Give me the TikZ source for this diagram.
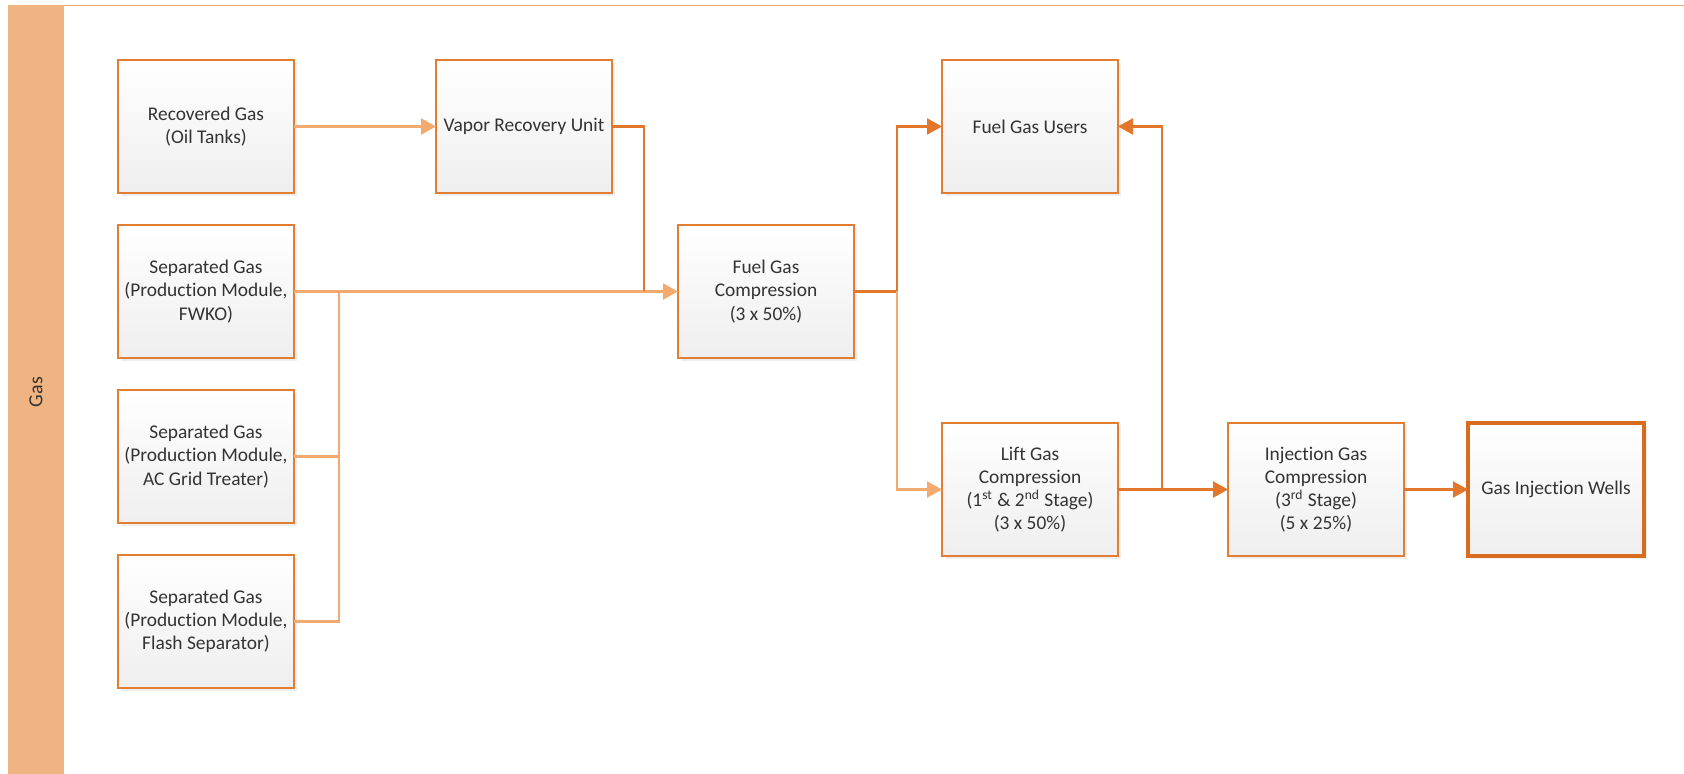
\documentclass[tikz,border=0pt]{standalone}
\usepackage{fontspec}
\setmainfont{Carlito}[Ligatures=NoCommon]
\usepackage{tikz}
\usetikzlibrary{positioning, arrows.meta, shadows, calc}
\usepackage{xcolor}
\definecolor{laneband}{RGB}{240,180,131}
\definecolor{unitline}{RGB}{226,125,52}
\definecolor{feedline}{RGB}{244,170,110}
\definecolor{mainline}{RGB}{226,118,42}
\definecolor{wellline}{RGB}{216,108,30}
\definecolor{labeltext}{RGB}{51,51,51}
\tikzset{
  unitbox/.style={rectangle, draw=unitline, line width=1.3pt,
                  top color=white, bottom color=gray!13,
                  drop shadow={shadow xshift=1.5pt, shadow yshift=-1.5pt,
                               fill=black!13},
                  minimum width=88pt, minimum height=66.5pt, outer sep=0pt,
                  inner sep=2pt, align=center,
                  text=labeltext, font=\fontsize{9.7}{11.6}\selectfont},
  wellbox/.style={unitbox, draw=wellline, line width=2.4pt},
  feed/.style={-{Triangle[length=7.5pt, width=8pt]}, line width=1.1pt,
               color=feedline},
  flow/.style={-{Triangle[length=7.5pt, width=8pt]}, line width=1.1pt,
               color=mainline},
  tie/.style={line width=1.1pt, color=feedline},
}

\begin{document}
\begin{tikzpicture}[node distance=16pt and 71pt]
    \useasboundingbox (0,0) rectangle (842pt,-387pt);
    % swimlane
    \fill[laneband] (4pt,-2.5pt) rectangle (32pt,-387pt);
    \draw[feedline, line width=0.5pt] (32pt,-2.75pt) -- (842pt,-2.75pt);
    \node[rotate=90, text=labeltext, font=\fontsize{10}{12}\selectfont]
          (lane) at (18pt,-196pt) {Gas};

    % sources
    \node[unitbox] (rec) at (103pt,-63.25pt) {Recovered Gas\\(Oil Tanks)};
    \node[unitbox, below=of rec] (sepA) {Separated Gas\\(Production Module,\\FWKO)};
    \node[unitbox, below=of sepA] (sepB) {Separated Gas\\(Production Module,\\AC Grid Treater)};
    \node[unitbox, below=of sepB] (sepC) {Separated Gas\\(Production Module,\\Flash Separator)};
    \node[unitbox, right=of rec] (vru) {Vapor Recovery Unit};

    % compression and users
    \node[unitbox, right=192pt of sepA] (fgc) {Fuel Gas\\Compression\\(3 x 50\%)};
    \node[unitbox, right=165pt of vru] (users) {Fuel Gas Users};
    \node[unitbox, below=115pt of users] (lift)
          {Lift Gas\\Compression\\(1\textsuperscript{st} \& 2\textsuperscript{nd} Stage)\\(3 x 50\%)};
    \node[unitbox, right=55pt of lift] (inj)
          {Injection Gas\\Compression\\(3\textsuperscript{rd} Stage)\\(5 x 25\%)};
    \node[wellbox, right=32pt of inj] (wells) {Gas Injection Wells};

    % junction points
    \coordinate (bus) at ($(sepA.east)+(22.5pt,0)$);
    \coordinate (merge) at ($(fgc.west)+(-17pt,0)$);
    \coordinate (split) at ($(fgc.east)+(21.5pt,0)$);
    \coordinate (tee) at ($(lift.east)!0.4!(inj.west)$);

    % connectors
    \draw[feed] (rec) -- (vru);
    \draw[tie] (sepC.east) -| (bus);
    \draw[tie] (sepB.east) -- (sepB.east -| bus);
    \draw[feed] (sepA.east) -- (fgc.west);
    \draw[flow, -] (vru.east) -| (merge);
    \draw[flow, -] (fgc.east) -- (split);
    \draw[flow] (split) |- (users.west);
    \draw[feed] (split) |- (lift.west);
    \draw[flow, line width=1.4pt] (lift.east) -- (inj.west);
    \draw[flow] (tee) |- (users.east);
    \draw[flow] (inj.east) -- (wells.west);
\end{tikzpicture}
\end{document}
